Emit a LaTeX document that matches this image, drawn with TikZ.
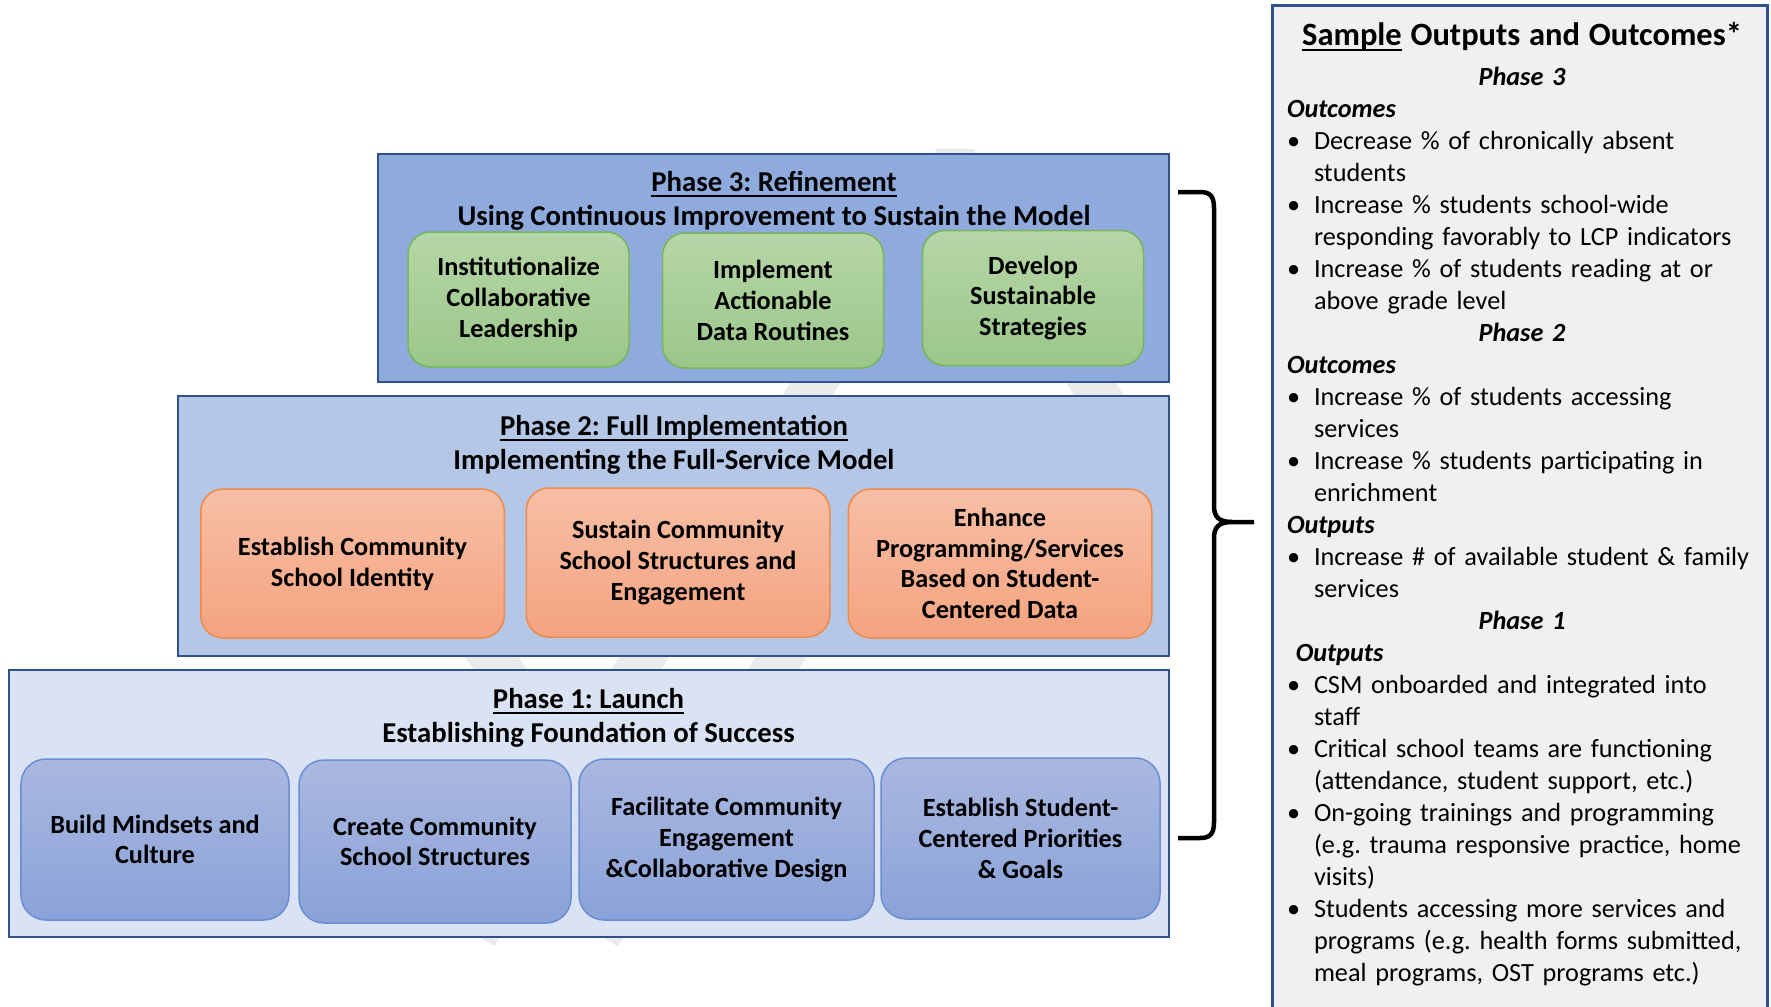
\documentclass[tikz,border=0pt]{standalone}
\usepackage{fontspec}
\setmainfont{Carlito}
\usetikzlibrary{positioning}

\definecolor{phaseline}{HTML}{2F528F}
\definecolor{phasethree}{HTML}{8FAADC}
\definecolor{phasetwo}{HTML}{B4C7E7}
\definecolor{phaseone}{HTML}{DAE3F3}
\definecolor{greentop}{HTML}{B6D6A7}
\definecolor{greenbot}{HTML}{9BC78A}
\definecolor{greenline}{HTML}{78B65A}
\definecolor{orangetop}{HTML}{F7BFA6}
\definecolor{orangebot}{HTML}{F4A37F}
\definecolor{orangeline}{HTML}{EF8A4B}
\definecolor{bluetop}{HTML}{AAB8E0}
\definecolor{bluebot}{HTML}{8AA2D8}
\definecolor{blueline}{HTML}{6B8DD3}
\definecolor{panelgray}{HTML}{F0F0F0}
\definecolor{markgray}{HTML}{EBEBEB}

% thicker underline for the headings
\newcommand{\ulbar}[1]{\setbox0\hbox{#1}\rlap{\rule[-2.2pt]{\wd0}{0.8pt}}\box0\relax}
% bullet lines and headings of the outcomes panel
\newcommand{\outitem}[1]{\par\hangindent=10.8pt\hangafter=1\noindent\makebox[10.8pt][l]{\textbullet}#1\par}
\newcommand{\phasehead}[1]{\par{\centering\bfseries\itshape #1\par}}
\newcommand{\outhead}[1]{\par\noindent{\bfseries\itshape #1}\par}

\tikzset{
  phasebox/.style={draw=phaseline, line width=0.8pt, inner sep=0pt},
  phasetitle/.style={align=center, font=\fontsize{11.5}{13.6}\selectfont\bfseries},
  taskbox/.style={rounded corners=9pt, line width=0.6pt, align=center, inner sep=2pt,
    font=\fontsize{10.5}{12.3}\selectfont\bfseries},
  greenbox/.style={taskbox, draw=greenline, top color=greentop, bottom color=greenbot,
    minimum width=88.4pt, minimum height=54pt},
  orangebox/.style={taskbox, draw=orangeline, top color=orangetop, bottom color=orangebot,
    minimum width=121.4pt, minimum height=59.6pt},
  bluebox/.style={taskbox, draw=blueline, top color=bluetop, bottom color=bluebot,
    minimum height=64.4pt, rounded corners=10pt},
  watermark/.style={draw=markgray, line width=17pt, line join=bevel}
}

\begin{document}
\frenchspacing
\begin{tikzpicture}[x=0.4pt,y=-0.4pt]
  \useasboundingbox (0,0) rectangle (1771,1006);

  % faint logo stripes in the back
  \draw[watermark] (476,935) -- (640,663) -- (955,160) -- (1120,430);
  \draw[watermark] (890,490) -- (600,935);
  \draw[watermark] (455,610) -- (540,720);

  % the three phases
  \node[phasebox, fill=phasethree, minimum width=316.4pt, minimum height=91.2pt] (phase3) at (773.5,268) {};
  \node[phasebox, fill=phasetwo, minimum width=396.4pt, minimum height=104pt] (phase2) at (673.5,526) {};
  \node[phasebox, fill=phaseone, minimum width=464pt, minimum height=106.8pt] (phase1) at (589,803.5) {};

  \node[phasetitle] (title3) at (774,200.5) {\ulbar{Phase 3: Refinement}\\Using Continuous Improvement to Sustain the Model};
  \node[phasetitle] (title2) at (674,444.5) {\ulbar{Phase 2: Full Implementation}\\Implementing the Full-Service Model};
  \node[phasetitle] (title1) at (588.5,717.5) {\ulbar{Phase 1: Launch}\\Establishing Foundation of Success};

  % Phase 3 steps
  \node[greenbox] (inst) at (518.5,299.5) {Institutionalize\\Collaborative\\Leadership};
  \node[greenbox] (data) at (773,300.5) {Implement\\Actionable\\Data Routines};
  \node[greenbox] (sust) at (1033,298) {Develop\\Sustainable\\Strategies};

  % Phase 2 steps
  \node[orangebox] (ident) at (352.5,563.5) {Establish Community\\School Identity};
  \node[orangebox] (struct) at (678,562.5) {Sustain Community\\School Structures and\\Engagement};
  \node[orangebox] (enh) at (1000,563.5) {Enhance\\Programming/Services\\Based on Student-\\Centered Data};

  % Phase 1 steps
  \node[bluebox, minimum width=107.2pt] (mind) at (155,839.5) {Build Mindsets and\\Culture};
  \node[bluebox, minimum width=108.8pt, minimum height=65.2pt] (create) at (435,841.5) {Create Community\\School Structures};
  \node[bluebox, minimum width=118pt] (facil) at (726.5,839.5) {Facilitate Community\\Engagement\\\&Collaborative Design};
  \node[bluebox, minimum width=111.6pt] (prio) at (1020.5,838.5) {Establish Student-\\Centered Priorities\\\& Goals};

  % brace over all phases
  \coordinate (bracetop) at (1178,192);
  \coordinate (bracetip) at (1254,522);
  \coordinate (bracebot) at (1178,838);
  \draw[line width=1.8pt] (bracetop) -- (1200,192) .. controls (1210,192) and (1214,196) .. (1214,208)
    -- (1214,506) .. controls (1214,517) and (1219,522) .. (1232,522) -- (bracetip);
  \draw[line width=1.8pt] (1232,522) .. controls (1219,522) and (1214,527) .. (1214,538)
    -- (1214,822) .. controls (1214,834) and (1210,838) .. (1200,838) -- (bracebot);

  % outputs and outcomes panel
  \draw[draw=phaseline, line width=1.2pt, fill=panelgray] (1272,6) rectangle (1767,1030);
  \node[anchor=north west, inner sep=0pt, text width=188pt, align=left,
        font=\fontsize{10.5}{12.8}\selectfont] (notes) at (1286.5,22) {%
    {\centering\fontsize{13}{15}\selectfont\bfseries\ulbar{Sample} Outputs and Outcomes*\par}
    \vspace{3.2pt}
    \phasehead{Phase 3}
    \outhead{Outcomes}
    \outitem{Decrease \% of chronically absent\newline students}
    \outitem{Increase \% students school-wide\newline responding favorably to LCP indicators}
    \outitem{Increase \% of students reading at or\newline above grade level}
    \phasehead{Phase 2}
    \outhead{Outcomes}
    \outitem{Increase \% of students accessing\newline services}
    \outitem{Increase \% students participating in\newline enrichment}
    \outhead{Outputs}
    \outitem{Increase \# of available student \& family\newline services}
    \phasehead{Phase 1}
    \outhead{\ Outputs}
    \outitem{CSM onboarded and integrated into\newline staff}
    \outitem{Critical school teams are functioning\newline (attendance, student support, etc.)}
    \outitem{On-going trainings and programming\newline (e.g. trauma responsive practice, home\newline visits)}
    \outitem{Students accessing more services and\newline programs (e.g. health forms submitted,\newline meal programs, OST programs etc.)}
  };
\end{tikzpicture}
\end{document}
